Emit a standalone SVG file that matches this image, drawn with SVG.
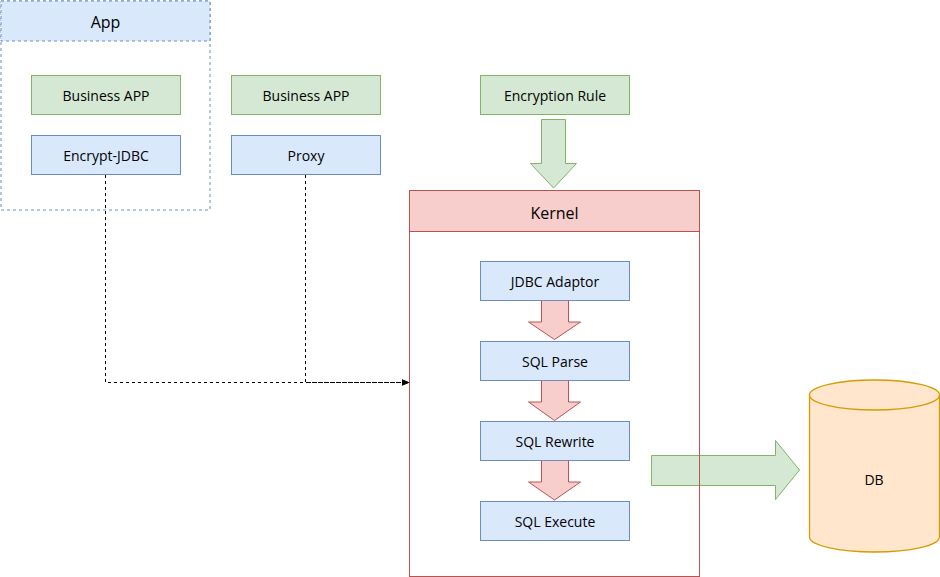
<svg xmlns="http://www.w3.org/2000/svg" width="940" height="577" viewBox="0 0 940 577">
<style>
text{font-family:"Open Sans","Liberation Sans",sans-serif;font-size:14px;fill:#000;text-anchor:middle;dominant-baseline:central}
.t16{font-size:16px}
.g{fill:#d5e8d4;stroke:#82b366;stroke-width:1}
.b{fill:#dae8fc;stroke:#6c8ebf;stroke-width:1}
.r{fill:#f8cecc;stroke:#b85450;stroke-width:1}
.dashbox{stroke:#6c8ebf;stroke-dasharray:3 3;stroke-width:1}
.conn{fill:none;stroke:#000;stroke-width:1;stroke-dasharray:3 3}
</style>
<defs>
<marker id="ah" viewBox="0 0 10 10" refX="9" refY="5" markerWidth="7" markerHeight="7" orient="auto" markerUnits="userSpaceOnUse">
<path d="M0,1 L10,5 L0,9 L2,5 Z" fill="#000" stroke="#000" stroke-width="1"/>
</marker>
</defs>
<rect width="940" height="577" fill="#fff"/>
<g id="app">
<rect x="1" y="1" width="209" height="209" fill="#fff" class="dashbox"/>
<rect x="1" y="1" width="209" height="40" fill="#dae8fc" class="dashbox"/>
<text x="105.5" y="22" class="t16">App</text>
</g>
<g id="connectors">
<path d="M541.5,119.5 H565.5 V163.5 H576.5 L553.5,188 L530.5,163.5 H541.5 Z" class="g"/>
<path d="M541.5,300.5 H568.5 V322 H580.5 L554.5,339.5 L528.5,322 H541.5 Z" class="r"/>
<path d="M541.5,380.5 H568.5 V402 H580.5 L554.5,420.5 L528.5,402 H541.5 Z" class="r"/>
<path d="M541.5,460.5 H568.5 V482 H580.5 L554.5,500 L528.5,482 H541.5 Z" class="r"/>
<path d="M651.5,455.5 H775.5 V440.5 L799.5,470 L775.5,499.5 V485.5 H651.5 Z" class="g"/>
<path d="M105.5,175 V382.5 H408" class="conn" marker-end="url(#ah)"/>
<path d="M305.5,175 V382.5 H408" class="conn" marker-end="url(#ah)"/>
</g>
<g id="kernel">
<rect x="409.5" y="190.5" width="290" height="386" fill="none" stroke="#b85450"/>
<rect x="409.5" y="190.5" width="290" height="41" class="r"/>
<text x="554.5" y="213" class="t16">Kernel</text>
</g>
<g id="business-app-1"><rect x="31.5" y="75.5" width="149" height="39" class="g"/><text x="106" y="95">Business APP</text></g>
<g id="encrypt-jdbc"><rect x="31.5" y="135.5" width="149" height="39" class="b"/><text x="106" y="155">Encrypt-JDBC</text></g>
<g id="business-app-2"><rect x="231.5" y="75.5" width="149" height="39" class="g"/><text x="306" y="95">Business APP</text></g>
<g id="proxy"><rect x="231.5" y="135.5" width="149" height="39" class="b"/><text x="306" y="155">Proxy</text></g>
<g id="encryption-rule"><rect x="480.5" y="75.5" width="149" height="39" class="g"/><text x="555" y="95">Encryption Rule</text></g>
<g id="jdbc-adaptor"><rect x="480.5" y="261.5" width="149" height="39" class="b"/><text x="555" y="281">JDBC Adaptor</text></g>
<g id="sql-parse"><rect x="480.5" y="341.5" width="149" height="39" class="b"/><text x="555" y="361">SQL Parse</text></g>
<g id="sql-rewrite"><rect x="480.5" y="421.5" width="149" height="39" class="b"/><text x="555" y="441">SQL Rewrite</text></g>
<g id="sql-execute"><rect x="480.5" y="501.5" width="149" height="39" class="b"/><text x="555" y="521">SQL Execute</text></g>
<g id="db">
<path d="M809.5,395 A65,15 0 0 1 939.5,395 L939.5,537 A65,15 0 0 1 809.5,537 Z" fill="#ffe6cc" stroke="#d79b00" stroke-width="1.3"/>
<path d="M809.5,395 A65,15 0 0 0 939.5,395" fill="none" stroke="#d79b00" stroke-width="1.3"/>
<text x="874" y="479">DB</text>
</g>
</svg>
